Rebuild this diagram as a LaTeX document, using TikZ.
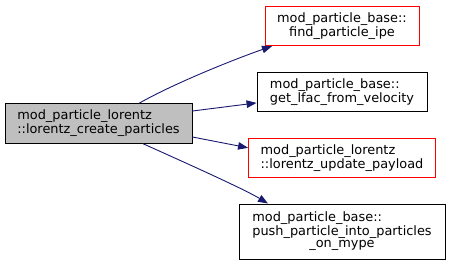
\documentclass[tikz,border=0pt]{standalone}
\usepackage{fontspec}
\setmainfont{DejaVu Sans}
\usepackage{xcolor}
\definecolor{callblue}{RGB}{25,25,112}
\definecolor{rootfill}{RGB}{191,191,191}
\usepackage{tikz}
\usetikzlibrary{arrows.meta, positioning}

\begin{document}
\begin{tikzpicture}[
  x=1pt, y=-1pt,
  node distance=25.5pt,
  box/.style={
    draw=black, line width=0.9pt, fill=white,
    minimum height=39.5pt, inner sep=2pt,
    font=\fontsize{12.9}{12.5}\selectfont, align=left,
  },
  rootbox/.style={box, fill=rootfill},
  redbox/.style={box, draw=red},
  call/.style={
    draw=callblue, line width=0.9pt,
    -{Triangle[length=10pt, width=7.5pt]},
  }
]
\useasboundingbox (0,0) rectangle (449,263);
\node[rootbox, minimum width=187pt] (create) at (98.5,123.5)
  {mod\_particle\_lorentz\\::lorentz\_create\_particles};
\node[redbox, minimum width=154pt, align=center] (ipe) at (342,26)
  {mod\_particle\_base::\\find\_particle\_ipe};
\node[box, minimum width=170pt] (lfac) [below=of ipe]
  {mod\_particle\_base::\\get\_lfac\_from\_velocity};
\node[redbox, minimum width=187pt] (payload) [below=of lfac]
  {mod\_particle\_lorentz\\::lorentz\_update\_payload};
\node[box, minimum width=206pt, minimum height=55pt] (push) [below=of payload]
  {\begin{tabular}{@{}l@{}}
     mod\_particle\_base::\\
     push\_particle\_into\_particles\\
     \multicolumn{1}{@{}c@{}}{\_on\_mype}
   \end{tabular}};

% calls
\draw[call] ([xshift=40.5pt]create.north) .. controls +(35,-20) and +(-35,12) .. ([xshift=-70pt]ipe.south);
\draw[call] ([yshift=12.5pt]create.east) -- ([yshift=-11pt]lfac.west);
\draw[call] ([yshift=-13.5pt]create.east) -- ([yshift=10pt]payload.west);
\draw[call] ([xshift=44.5pt]create.south) .. controls +(40,18) and +(-25,-15) .. ([xshift=-74pt]push.north);
\end{tikzpicture}
\end{document}
